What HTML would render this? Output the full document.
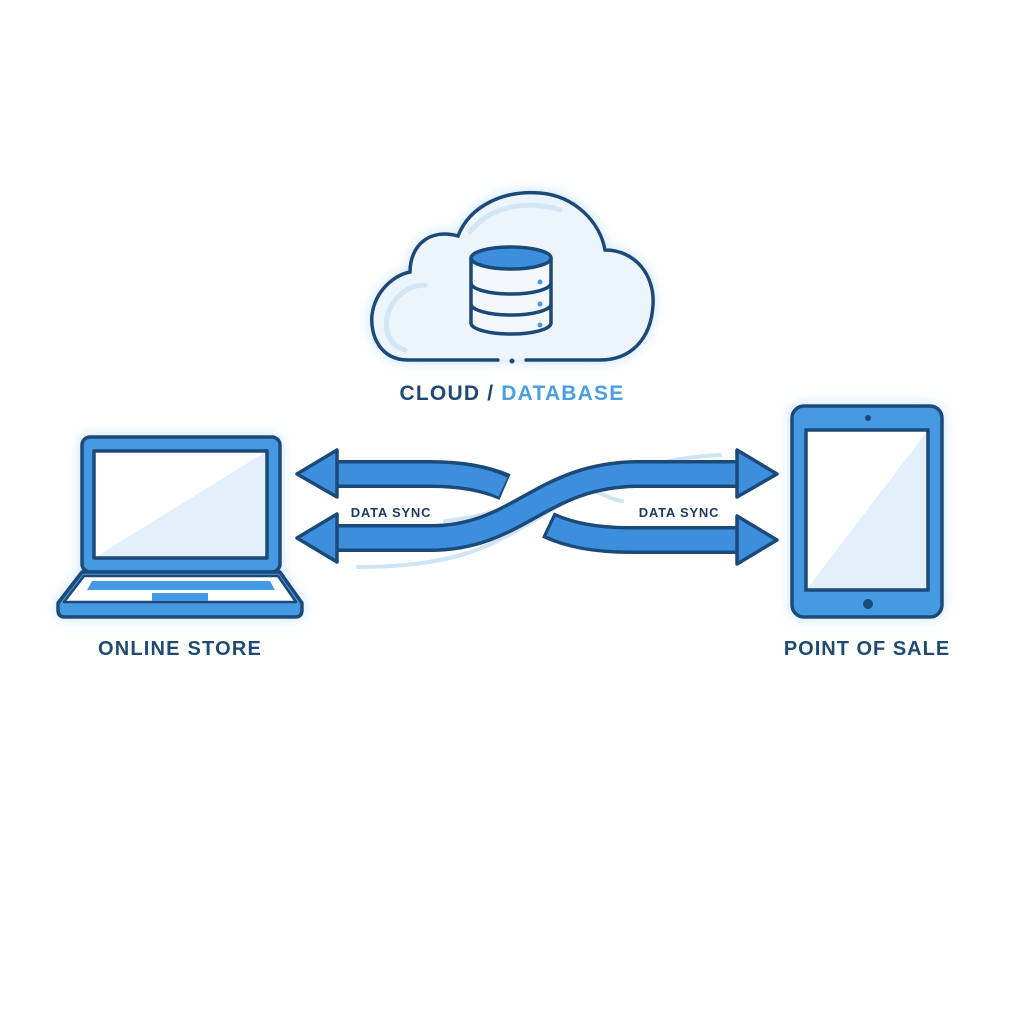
<!DOCTYPE html>
<html><head><meta charset="utf-8"><style>
html,body{margin:0;padding:0;background:#fff;}
svg{display:block}
text{font-family:"Liberation Sans",sans-serif;font-weight:bold}
</style></head><body>
<svg width="1024" height="1024" viewBox="0 0 1024 1024" xmlns="http://www.w3.org/2000/svg">
<defs>
<filter id="glow" x="-20%" y="-20%" width="140%" height="140%">
<feGaussianBlur in="SourceAlpha" stdDeviation="6" result="b"/>
<feFlood flood-color="#9fd0f5" flood-opacity="0.6"/>
<feComposite in2="b" operator="in"/>
<feMerge><feMergeNode/><feMergeNode in="SourceGraphic"/></feMerge>
</filter>
<linearGradient id="scr" x1="0" y1="0" x2="1" y2="1">
<stop offset="0.5" stop-color="#ffffff"/><stop offset="0.5" stop-color="#e3f0fb"/>
</linearGradient>
</defs>
<rect width="1024" height="1024" fill="#fff"/>

<!-- Cloud -->
<g filter="url(#glow)">
<path d="M498,360 L408,360 C380,360 370,335 372,315 C375,290 395,275 410,272 C410,245 430,228 458,236 C470,205 505,190 540,193 C575,196 600,222 605,250 C635,250 655,275 653,305 C651,340 630,360 600,360 L526,360" fill="#edf5fc" stroke="#1c4a78" stroke-width="3.5" stroke-linecap="round"/>
</g>
<path d="M405,350 C385,345 382,320 392,305 C400,290 415,285 425,285" fill="none" stroke="#d2e6f6" stroke-width="5" stroke-linecap="round"/>
<path d="M470,232 C490,205 530,200 560,210" fill="none" stroke="#d2e6f6" stroke-width="5" stroke-linecap="round"/>
<circle cx="512" cy="361" r="2.5" fill="#1c4a78"/>
<!-- DB -->
<g stroke="#1c4a78" stroke-width="3.5" fill="#f3f8fd">
<path d="M471,258 L471,323 A40,11 0 0 0 551,323 L551,258"/>
<path d="M471,283 A40,11 0 0 0 551,283" fill="none"/>
<path d="M471,304 A40,11 0 0 0 551,304" fill="none"/>
<ellipse cx="511" cy="258" rx="40" ry="11" fill="#3d8fde"/>
</g>
<circle cx="540" cy="282" r="2.5" fill="#4a9ad8"/>
<circle cx="540" cy="304" r="2.5" fill="#4a9ad8"/>
<circle cx="540" cy="325" r="2.5" fill="#4a9ad8"/>
<text x="512" y="400" font-size="21" text-anchor="middle" fill="#1e4a74" letter-spacing="1.2">CLOUD / <tspan fill="#4a9fe0">DATABASE</tspan></text>

<!-- Laptop -->
<g filter="url(#glow)" stroke="#1c4a78" stroke-width="3.5" stroke-linejoin="round">
<rect x="82" y="437" width="198" height="135" rx="8" fill="#4599e3"/>
<rect x="94" y="451" width="173" height="107" fill="url(#scr)"/>
<path d="M82,572 L280,572 L302,603 L302,610 Q302,617 295,617 L65,617 Q58,617 58,610 L58,603 Z" fill="#4599e3"/>
<path d="M84,576 L278,576 L296,602 L64,602 Z" fill="#fff" stroke-width="2.5"/>
</g>
<path d="M92,581 L270,581 L275,590 L87,590 Z" fill="#4599e3"/>
<rect x="152" y="593" width="56" height="8" fill="#4599e3"/>
<text x="180" y="655" font-size="20" text-anchor="middle" fill="#1e4a74" letter-spacing="1.2">ONLINE STORE</text>

<!-- Tablet -->
<g filter="url(#glow)" stroke="#1c4a78" stroke-width="3.5">
<rect x="792" y="406" width="150" height="211" rx="12" fill="#4599e3"/>
<rect x="806" y="430" width="122" height="160" fill="url(#scr)"/>
</g>
<circle cx="868" cy="418" r="3" fill="#1c4a78"/>
<circle cx="868" cy="604" r="5" fill="#1c4a78"/>
<text x="867" y="655" font-size="20" text-anchor="middle" fill="#1e4a74" letter-spacing="1">POINT OF SALE</text>

<!-- faint lines -->
<path d="M358,567 C470,567 500,540 560,505 C610,478 650,458 720,455" fill="none" stroke="#cfe4f5" stroke-width="4" stroke-linecap="round"/>
<path d="M445,521 C500,515 520,500 560,490 C590,482 610,501 622,501" fill="none" stroke="#cfe4f5" stroke-width="4" stroke-linecap="round"/>

<!-- arrows -->
<g fill="none" stroke-linecap="butt">
<path d="M335,474 L430,474 Q475,474 505,487" stroke="#1c4a78" stroke-width="28"/>
<path d="M335,474 L430,474 Q475,474 503,487" stroke="#3d8fde" stroke-width="21"/>
<path d="M335,538 L430,538 C520,538 540,474 640,474 L740,474" stroke="#1c4a78" stroke-width="28"/>
<path d="M335,538 L430,538 C520,538 540,474 640,474 L740,474" stroke="#3d8fde" stroke-width="21"/>
<path d="M548,525 Q580,540 630,540 L740,540" stroke="#1c4a78" stroke-width="28"/>
<path d="M551,526 Q580,540 630,540 L740,540" stroke="#3d8fde" stroke-width="21"/>
</g>
<g fill="#3d8fde" stroke="#1c4a78" stroke-width="3.5" stroke-linejoin="round">
<polygon points="297,474 337,450 337,497"/>
<polygon points="297,538 337,514 337,562"/>
<polygon points="777,474 737,450 737,497"/>
<polygon points="777,540 737,516 737,564"/>
</g>
<text x="391" y="517" font-size="13" text-anchor="middle" fill="#1e3a5c" letter-spacing="0.8">DATA SYNC</text>
<text x="679" y="517" font-size="13" text-anchor="middle" fill="#1e3a5c" letter-spacing="0.8">DATA SYNC</text>
</svg>
</body></html>
